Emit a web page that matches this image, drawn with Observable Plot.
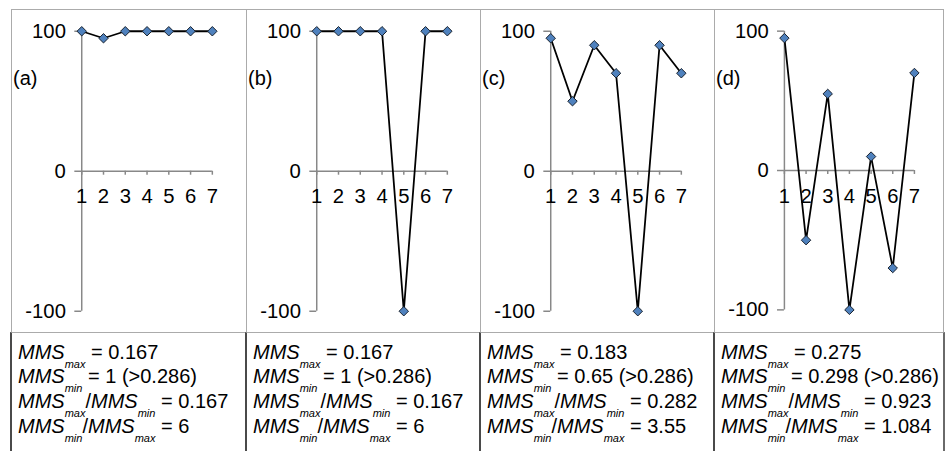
<!DOCTYPE html>
<html>
<head>
<meta charset="utf-8">
<script src="https://cdn.jsdelivr.net/npm/d3@7"></script>
<script src="https://cdn.jsdelivr.net/npm/@observablehq/plot@0.6"></script>
<style>
  html, body { margin: 0; padding: 0; background: #fff; width: 950px; height: 451px; overflow: hidden; }
  #root { position: relative; width: 950px; height: 451px; font-family: "Liberation Sans", Arial, sans-serif; }
  .chartcell { position: absolute; top: 8.5px; height: 323.5px; box-sizing: border-box; border: 1.5px solid #ababab; border-right: none; border-bottom: none; }
  .chartcell.last { border-right: 1.5px solid #ababab; }
  .chartcell svg { position: absolute; left: -1.5px; top: -1.5px; overflow: visible; }
  .plabel { position: absolute; font-size: 20px; line-height: 20px; color: #000; }
  .textcell { position: absolute; top: 332px; height: 140px; box-sizing: border-box; border-top: 1.5px solid #ababab; border-left: 2px solid #4a4a4a; padding: 8.7px 0 0 6px; font-size: 20px; line-height: 21.7px; color: #000; white-space: nowrap; }
  .textcell.last { border-right: 2px solid #6a6a6a; }
  .textcell i { font-style: italic; }
  .textcell .sub { font-style: italic; font-size: 11px; position: relative; top: 9px; }
</style>
</head>
<body>
<div id="root"></div>
<script>
// ---- data ----
const xValues = [1, 2, 3, 4, 5, 6, 7];
const seriesA = [100, 95, 100, 100, 100, 100, 100];
const seriesB = [100, 100, 100, 100, -100, 100, 100];
const seriesC = [95, 50, 90, 70, -100, 90, 70];
const seriesD = [95, -50, 55, -100, 10, -70, 70];
const yTicks = [-100, 0, 100];
const panelLabels = ["(a)", "(b)", "(c)", "(d)"];
const mmsMax = ["0.167", "0.167", "0.183", "0.275"];
const mmsMin = ["1 (>0.286)", "1 (>0.286)", "0.65 (>0.286)", "0.298 (>0.286)"];
const ratioMaxMin = ["0.167", "0.167", "0.282", "0.923"];
const ratioMinMax = ["6", "6", "3.55", "1.084"];

const allSeries = [seriesA, seriesB, seriesC, seriesD];

// ---- layout ----
const edges = [10.5, 245.5, 479.5, 713.5, 944];
const H = 324, MT = 23, MB = 18, ML = 72;
const grey = "#888888";

const root = document.getElementById("root");

allSeries.forEach((series, k) => {
  const left = edges[k], w = edges[k + 1] - edges[k];
  const last = k === 3;
  const cell = document.createElement("div");
  cell.className = "chartcell" + (last ? " last" : "");
  cell.style.left = left + "px";
  cell.style.width = w + "px";
  root.appendChild(cell);

  const data = xValues.map((x, i) => ({x, y: series[i]}));
  const yScale = Plot.scale({y: {domain: [-100, 100], range: [H - MB, MT]}});
  const axisShift = yScale.apply(0) - yScale.apply(-100); // negative: move up from frame bottom to y = 0

  const chart = Plot.plot({
    width: w + 1.5,
    height: H,
    marginLeft: ML,
    marginRight: w + 1.5 - ML - 132,
    marginTop: MT,
    marginBottom: MB,
    x: {domain: [1, 7]},
    y: {domain: [-100, 100]},
    style: {fontFamily: "'Liberation Sans', Arial, sans-serif", fontSize: "20.5px", color: "#000", background: "transparent", overflow: "visible"},
    marks: [
      Plot.ruleX([1], {y1: -100, y2: 100, stroke: grey, strokeWidth: 1.5}),
      Plot.ruleY([0], {x1: 1, x2: 7, stroke: grey, strokeWidth: 1.5}),
      Plot.axisY(yTicks, {anchor: "left", tickSize: 7, tickPadding: 9, stroke: grey, strokeWidth: 1.5, tickFormat: d => String(d), label: null, fill: "#000"}),
      Plot.axisX(xValues, {anchor: "bottom", tickSize: 4, tickPadding: 14, stroke: grey, strokeWidth: 1.5, dy: axisShift, tickFormat: d => String(d), label: null, fill: "#000"}),
      Plot.line(data, {x: "x", y: "y", stroke: "#000", strokeWidth: 1.8}),
      Plot.dot(data, {x: "x", y: "y", symbol: "diamond2", r: 4.3, fill: "#4f81bd", stroke: "#17202c", strokeWidth: 1})
    ]
  });
  cell.appendChild(chart);

  const lab = document.createElement("div");
  lab.className = "plabel";
  lab.style.left = "1.5px";
  lab.style.top = "58.5px";
  lab.textContent = panelLabels[k];
  cell.appendChild(lab);

  const tc = document.createElement("div");
  tc.className = "textcell" + (last ? " last" : "");
  tc.style.left = (left - 0.5) + "px";
  tc.style.width = (w + (last ? 1.5 : 0)) + "px";
  tc.innerHTML =
    `<div><i>MMS</i><span class="sub">max</span> = ${mmsMax[k]}</div>` +
    `<div><i>MMS</i><span class="sub">min</span> = ${mmsMin[k]}</div>` +
    `<div><i>MMS</i><span class="sub">max</span>/<i>MMS</i><span class="sub">min</span> = ${ratioMaxMin[k]}</div>` +
    `<div><i>MMS</i><span class="sub">min</span>/<i>MMS</i><span class="sub">max</span> = ${ratioMinMax[k]}</div>`;
  root.appendChild(tc);
});
</script>
</body>
</html>
